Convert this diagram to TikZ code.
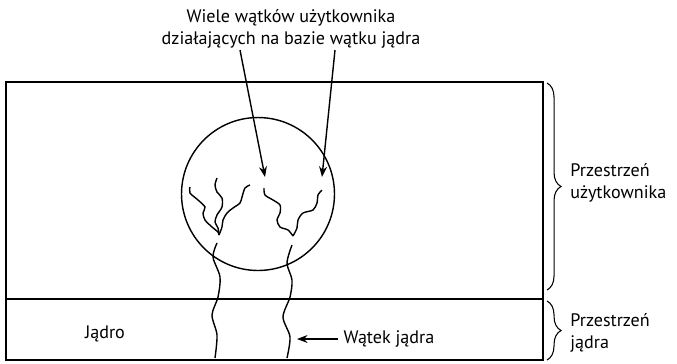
\documentclass[tikz,border=0pt]{standalone}
\usepackage{fontspec}
\setmainfont{PT Sans}
\usetikzlibrary{arrows.meta,decorations.pathreplacing}

\begin{document}
\begin{tikzpicture}[x=0.02cm, y=-0.02cm, font=\fontsize{10.3}{12.5}\selectfont,
  linia/.style={line width=0.8pt},
  watek/.style={line width=0.8pt},
  strzalka/.style={-{Stealth[length=6pt,width=4.5pt]}, line width=0.8pt},
  klamra/.style={decorate, decoration={brace, amplitude=8pt}, line width=0.6pt},
  opis/.style={align=left, inner sep=0pt}]
\useasboundingbox (0,0) rectangle (677,363);
% przestrzen uzytkownika i jadra
\draw[linia] (6,82) rectangle (543,360);
\draw[linia] (6,299) -- (543,299);
\node[circle, draw, line width=0.8pt, minimum size=3.06cm] (kolo) at (258,194) {};
% watki uzytkownika
\draw[watek] plot[smooth] coordinates {(190,187) (190,193) (198,200) (205,207) (203,213) (205,220) (212,227) (218,232) (219,235)};
\draw[watek] plot[smooth] coordinates {(217,178) (215,185) (217,192) (222,198) (222,207) (217,215) (215,222) (218,228) (219,235)};
\draw[watek] plot[smooth] coordinates {(250,185) (245,188) (242,197) (240,203) (233,208) (227,213) (223,220) (222,227) (219,235)};
\draw[watek] plot[smooth] coordinates {(264,188) (265,195) (273,200) (280,205) (280,213) (277,220) (280,227) (288,230) (293,236)};
\draw[watek] plot[smooth] coordinates {(322,190) (318,195) (317,203) (313,210) (303,213) (298,220) (297,228) (293,236)};
% watki jadra
\draw[watek] plot[smooth] coordinates {(217,243) (213,257) (220,277) (218,297) (212,315) (217,335) (215,358)};
\draw[watek] plot[smooth] coordinates {(292,245) (287,263) (292,280) (290,297) (283,317) (290,337) (287,358)};
% opisy
\node[align=center, inner sep=0pt] (wiele) at (291,29) {Wiele wątków użytkownika\\działających na bazie wątku jądra};
\coordinate (w1) at (240,50);
\coordinate (w2) at (335,50);
\coordinate (k1) at (265,177);
\coordinate (k2) at (322,177);
\draw[strzalka] (w1) -- (k1);
\draw[strzalka] (w2) -- (k2);
\node (jadro) at (105,334) {Jądro};
\node (wj) at (389,339) {Wątek jądra};
\coordinate (kw) at (297,339);
\draw[strzalka] (wj.west) -- (kw);
% klamry
\draw[klamra] (547,83) -- (547,290);
\draw[klamra] (547,301) -- (547,360);
\node[opis, anchor=west] (pu) at (570,183) {Przestrzeń\\użytkownika};
\node[opis, anchor=west] (pj) at (570,333) {Przestrzeń\\jądra};
\end{tikzpicture}
\end{document}
